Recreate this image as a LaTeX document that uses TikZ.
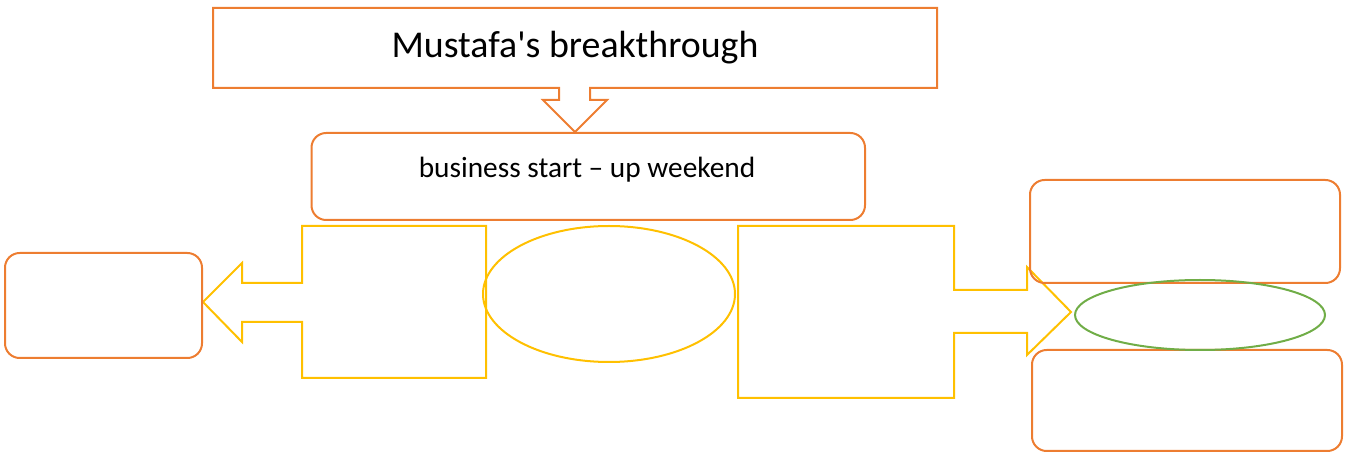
\documentclass[tikz,border=0pt]{standalone}
\usepackage{fontspec}
\setmainfont{Carlito}[Ligatures=TeXOff]
\usetikzlibrary{shapes.geometric}
\definecolor{offorange}{HTML}{ED7D31}
\definecolor{offyellow}{HTML}{FFC000}
\definecolor{offgreen}{HTML}{70AD47}
\tikzset{
  obox/.style={draw=offorange, line width=1.5pt, rounded corners=11pt, inner sep=0pt},
  ocallout/.style={draw=offorange, line width=1.5pt},
  ycallout/.style={draw=offyellow, line width=1.5pt},
  yell/.style={draw=offyellow, line width=1.5pt},
  gell/.style={draw=offgreen, line width=1.5pt},
}
\begin{document}
\begin{tikzpicture}[x=0.75pt,y=-0.75pt]
\useasboundingbox (0,0) rectangle (1347,452);
% top callout
\draw[ocallout] (213,8) -- (937,8) -- (937,88) -- (590,88) -- (590,100) -- (607,100) -- (575,132) -- (543,100) -- (559,100) -- (559,88) -- (213,88) -- cycle;
\node[font=\fontsize{28.4}{34}\selectfont] (title) at (575,48) {Mustafa's breakthrough};
% business box
\draw[obox] (311.5,133) rectangle (865,220);
\node[font=\fontsize{22}{26}\selectfont] (biz) at (587,170) {business start – up weekend};
% left callout
\draw[ycallout] (302,226) -- (486,226) -- (486,378) -- (302,378) -- (302,322) -- (242,322) -- (242,342) -- (203,302) -- (242,263) -- (242,283) -- (302,283) -- cycle;
\draw[obox] (5,253) rectangle (202,358);
% middle ellipse
\draw[yell] (609,294) ellipse [x radius=126, y radius=68];
% right callout
\draw[ycallout] (738,226) -- (954,226) -- (954,290) -- (1027,290) -- (1027,267) -- (1071,312) -- (1027,355) -- (1027,333) -- (954,333) -- (954,398) -- (738,398) -- cycle;
% right boxes
\draw[obox] (1030,180) rectangle (1340,283);
\draw[obox] (1032,350) rectangle (1342,451);
\draw[gell] (1200,315) ellipse [x radius=125, y radius=35];
\end{tikzpicture}
\end{document}
